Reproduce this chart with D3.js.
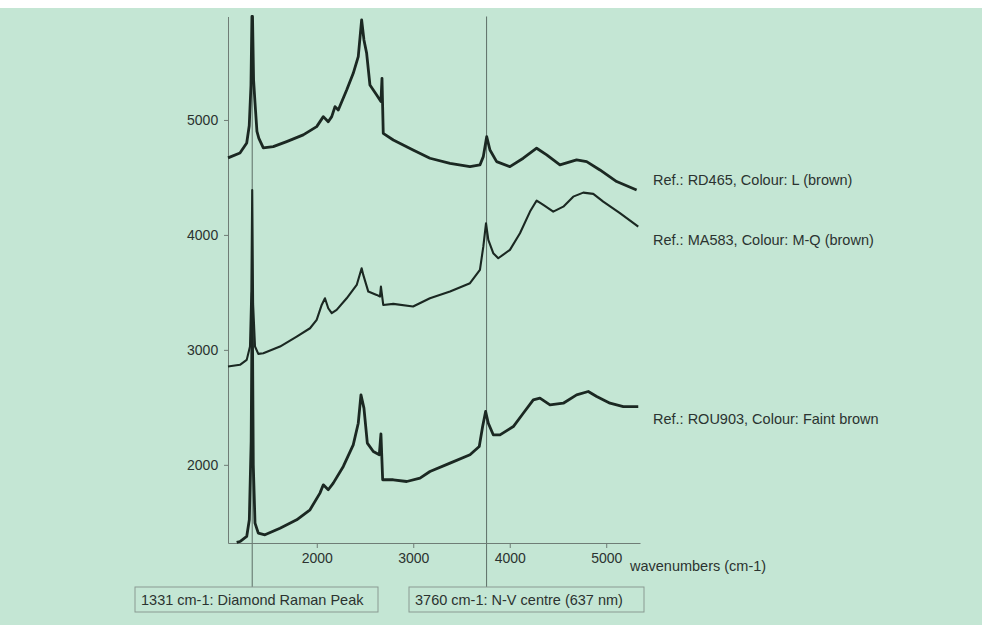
<!DOCTYPE html>
<html>
<head>
<meta charset="utf-8">
<script src="https://cdn.jsdelivr.net/npm/d3@7"></script>
<style>
  body { margin: 0; background: #ffffff; }
  text { font-family: "Liberation Sans", Arial, sans-serif; fill: #2b3330; }
</style>
</head>
<body>
<div id="wrapper"></div>
<script>
// spectra: [wavenumber cm-1, intensity]
const rd465 = [
  [1080, 4670], [1204, 4713], [1274, 4800], [1300, 4950], [1318, 5300], [1328, 5900],
  [1334, 5900], [1345, 5350], [1360, 5150], [1380, 4900], [1400, 4840], [1446, 4757],
  [1549, 4768], [1688, 4812], [1860, 4870], [1999, 4942], [2068, 5029], [2119, 4985],
  [2155, 5029], [2189, 5116], [2223, 5087], [2310, 5261], [2378, 5406], [2430, 5551],
  [2465, 5870], [2489, 5696], [2517, 5580], [2551, 5304], [2621, 5217], [2665, 5160],
  [2676, 5362], [2689, 4884], [2793, 4826], [2998, 4739], [3173, 4667], [3381, 4623],
  [3588, 4594], [3691, 4609], [3726, 4681], [3761, 4855], [3795, 4739], [3864, 4638],
  [4002, 4594], [4140, 4667], [4279, 4754], [4383, 4696], [4520, 4609], [4693, 4652],
  [4797, 4638], [4935, 4565], [5108, 4464], [5315, 4391]
]
const ma583 = [
  [1080, 2855], [1204, 2870], [1274, 2913], [1308, 3030], [1322, 3500], [1331, 4390],
  [1340, 3400], [1360, 3029], [1394, 2965], [1446, 2971], [1619, 3029], [1792, 3116],
  [1930, 3188], [1999, 3261], [2051, 3391], [2085, 3449], [2119, 3362], [2155, 3319],
  [2206, 3348], [2310, 3449], [2414, 3565], [2465, 3710], [2482, 3652], [2534, 3507],
  [2621, 3478], [2655, 3464], [2665, 3551], [2689, 3391], [2793, 3400], [2998, 3377],
  [3173, 3449], [3381, 3507], [3588, 3580], [3691, 3696], [3726, 3898], [3754, 4101],
  [3778, 3957], [3829, 3841], [3881, 3797], [4002, 3870], [4106, 4015], [4210, 4203],
  [4279, 4299], [4348, 4261], [4451, 4203], [4555, 4246], [4658, 4333], [4762, 4368],
  [4866, 4357], [4969, 4290], [5142, 4189], [5332, 4072]
]
const rou903 = [
  [1170, 1325], [1204, 1333], [1274, 1377], [1301, 1522], [1320, 2200], [1331, 3500],
  [1342, 2000], [1360, 1493], [1394, 1406], [1463, 1391], [1619, 1449], [1792, 1522],
  [1930, 1609], [2033, 1754], [2068, 1826], [2119, 1783], [2171, 1841], [2275, 1986],
  [2378, 2174], [2430, 2362], [2458, 2609], [2489, 2493], [2524, 2189], [2586, 2116],
  [2648, 2087], [2665, 2270], [2683, 1870], [2793, 1870], [2932, 1855], [3070, 1884],
  [3173, 1942], [3381, 2015], [3588, 2087], [3684, 2159], [3719, 2333], [3750, 2464],
  [3778, 2362], [3829, 2261], [3899, 2261], [4037, 2333], [4140, 2449], [4244, 2565],
  [4313, 2580], [4417, 2522], [4555, 2536], [4693, 2609], [4814, 2638], [4901, 2594],
  [5039, 2536], [5177, 2507], [5332, 2507]
]
const seriesNames = ["Ref.: RD465, Colour: L (brown)", "Ref.: MA583, Colour: M-Q (brown)", "Ref.: ROU903, Colour: Faint brown"]
const seriesLabelY = [4480, 3960, 2400]
const xTicks = [2000, 3000, 4000, 5000]
const yTicks = [2000, 3000, 4000, 5000]
const markers = [1331, 3760]
const markerLabels = ["1331 cm-1: Diamond Raman Peak", "3760 cm-1: N-V centre (637 nm)"]

const W = 986, H = 625
const svg = d3.select("#wrapper").append("svg")
    .attr("width", W).attr("height", H)

// paper background
svg.append("rect").attr("x", 0).attr("y", 8).attr("width", 982).attr("height", H - 8)
    .attr("fill", "#c4e6d4")

const x = d3.scaleLinear().domain([1080, 5350]).range([228, 640])
const y = d3.scaleLinear().domain([1320, 5900]).range([543, 16.5])

// reference lines for the two features
svg.selectAll(".marker")
    .data(markers)
    .enter().append("line")
    .attr("x1", d => x(d)).attr("x2", d => x(d))
    .attr("y1", y(5900)).attr("y2", 587)
    .attr("stroke", "#5d6e66").attr("stroke-width", 1)

// axes
const xAxis = d3.axisBottom(x).tickValues(xTicks).tickFormat(d3.format("d")).tickSize(5).tickSizeOuter(0)
const gx = svg.append("g").attr("transform", `translate(0,${y(1320)})`).call(xAxis)
gx.selectAll(".tick text").attr("font-size", 14).attr("dy", "0.85em")
const yAxis = d3.axisLeft(y).tickValues(yTicks).tickFormat(d3.format("d")).tickSize(4).tickSizeOuter(0)
const gy = svg.append("g").attr("transform", `translate(${x(1080)},0)`).call(yAxis)
gy.selectAll(".tick text").attr("font-size", 14).attr("dx", "-0.2em")
svg.selectAll(".domain, .tick line").attr("stroke", "#6f7d76")
svg.selectAll(".tick text").attr("fill", "#2b3330").attr("font-family", "Liberation Sans, Arial, sans-serif")

svg.append("text").attr("x", 630).attr("y", 571)
    .attr("font-size", 14.5).text("wavenumbers (cm-1)")

// spectra, drawn thick to stand in for the noise band of the scan
const line = d3.line().x(d => x(d[0])).y(d => y(d[1]))
const allSeries = [rd465, ma583, rou903]
const strokeW = [2.8, 2.1, 2.8]
allSeries.forEach(function(s, i) {
    svg.append("path").datum(s).attr("d", line)
        .attr("fill", "none").attr("stroke", "#1b2822")
        .attr("stroke-width", strokeW[i]).attr("stroke-linejoin", "round")
})

svg.selectAll(".label")
    .data(seriesNames)
    .enter().append("text")
    .attr("x", 653).attr("y", (d, i) => y(seriesLabelY[i]))
    .attr("dy", "0.35em").attr("font-size", 14.5)
    .text(d => d)

// caption boxes under the plot
const boxX = [135, 409], boxW = [243, 235]
markerLabels.forEach(function(t, i) {
    svg.append("rect").attr("x", boxX[i]).attr("y", 587).attr("width", boxW[i]).attr("height", 25)
        .attr("fill", "none").attr("stroke", "#8a9a92").attr("stroke-width", 1)
    svg.append("text").attr("x", boxX[i] + 6).attr("y", 600).attr("dy", "0.35em")
        .attr("font-size", 14.5).text(t)
})
</script>
</body>
</html>
